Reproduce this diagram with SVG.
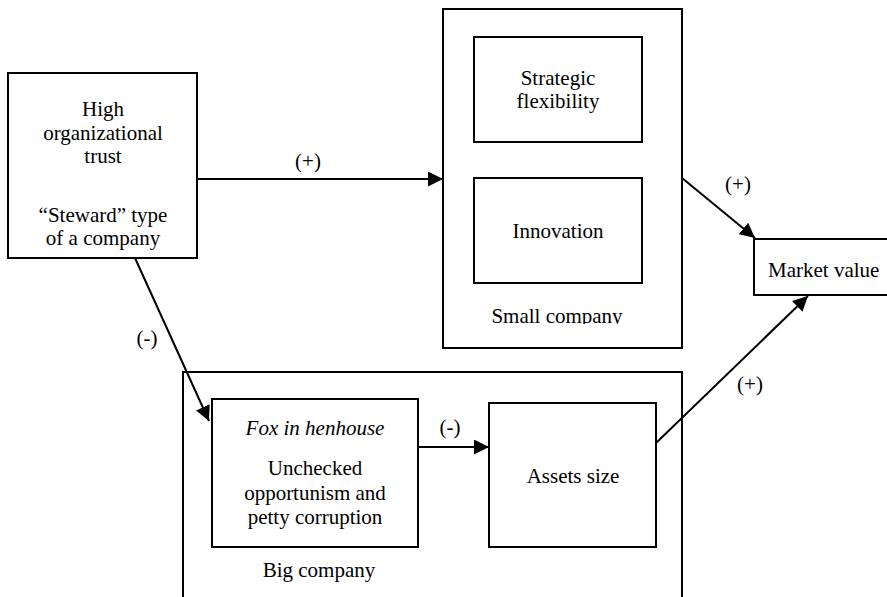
<svg xmlns="http://www.w3.org/2000/svg" width="887" height="597" viewBox="0 0 887 597">
<style>
.box{fill:none;stroke:#000;stroke-width:2}
text{font-size:21px;fill:#000;text-anchor:middle}
.i{font-style:italic}
.c{stroke:#000;stroke-width:2;fill:none;marker-end:url(#ah)}
</style>
<defs>
<marker id="ah" markerUnits="userSpaceOnUse" markerWidth="16" markerHeight="15" refX="15" refY="7.5" orient="auto">
<path d="M0,0 L15,7.5 L0,15 z" fill="#000"/>
</marker>
<clipPath id="clipSmall"><rect x="443" y="9" width="240" height="315"/></clipPath>
</defs>
<rect width="887" height="597" fill="#fff"/>
<g font-family="'Liberation Serif', 'Times New Roman', serif">
<g id="trust">
<rect class="box" x="8" y="73" width="189" height="185"/>
<text x="103" y="116">High</text>
<text x="103" y="140">organizational</text>
<text x="103" y="163">trust</text>
<text x="103" y="222">“Steward” type</text>
<text x="103" y="245">of a company</text>
</g>
<g id="small-company">
<rect class="box" x="443" y="9" width="239" height="339"/>
<text x="557" y="323" clip-path="url(#clipSmall)">Small company</text>
</g>
<g id="strategic">
<rect class="box" x="474" y="37" width="168" height="105"/>
<text x="558" y="85">Strategic</text>
<text x="558" y="108">flexibility</text>
</g>
<g id="innovation">
<rect class="box" x="474" y="178" width="168" height="105"/>
<text x="558" y="238">Innovation</text>
</g>
<g id="market">
<rect class="box" x="754" y="239" width="140" height="56"/>
<text x="768" y="277" style="text-anchor:start">Market value</text>
</g>
<g id="big-company">
<rect class="box" x="183" y="372" width="499" height="240"/>
<text x="319" y="577">Big company</text>
</g>
<g id="fox">
<rect class="box" x="212" y="399" width="206" height="148"/>
<text class="i" x="315" y="435">Fox in henhouse</text>
<text x="315" y="475">Unchecked</text>
<text x="315" y="500">opportunism and</text>
<text x="315" y="524">petty corruption</text>
</g>
<g id="assets">
<rect class="box" x="489" y="403" width="167" height="144"/>
<text x="573" y="483">Assets size</text>
</g>
<g id="connectors">
<line class="c" x1="197" y1="179" x2="443" y2="179"/>
<text x="308" y="168">(+)</text>
<line class="c" x1="682" y1="178" x2="755" y2="238"/>
<text x="738" y="191">(+)</text>
<line class="c" x1="135" y1="258" x2="209" y2="421"/>
<text x="147" y="345">(-)</text>
<line class="c" x1="418" y1="447" x2="489" y2="447"/>
<text x="450" y="434">(-)</text>
<line class="c" x1="656" y1="443" x2="808" y2="296"/>
<text x="750" y="391">(+)</text>
</g>
</g>
</svg>
